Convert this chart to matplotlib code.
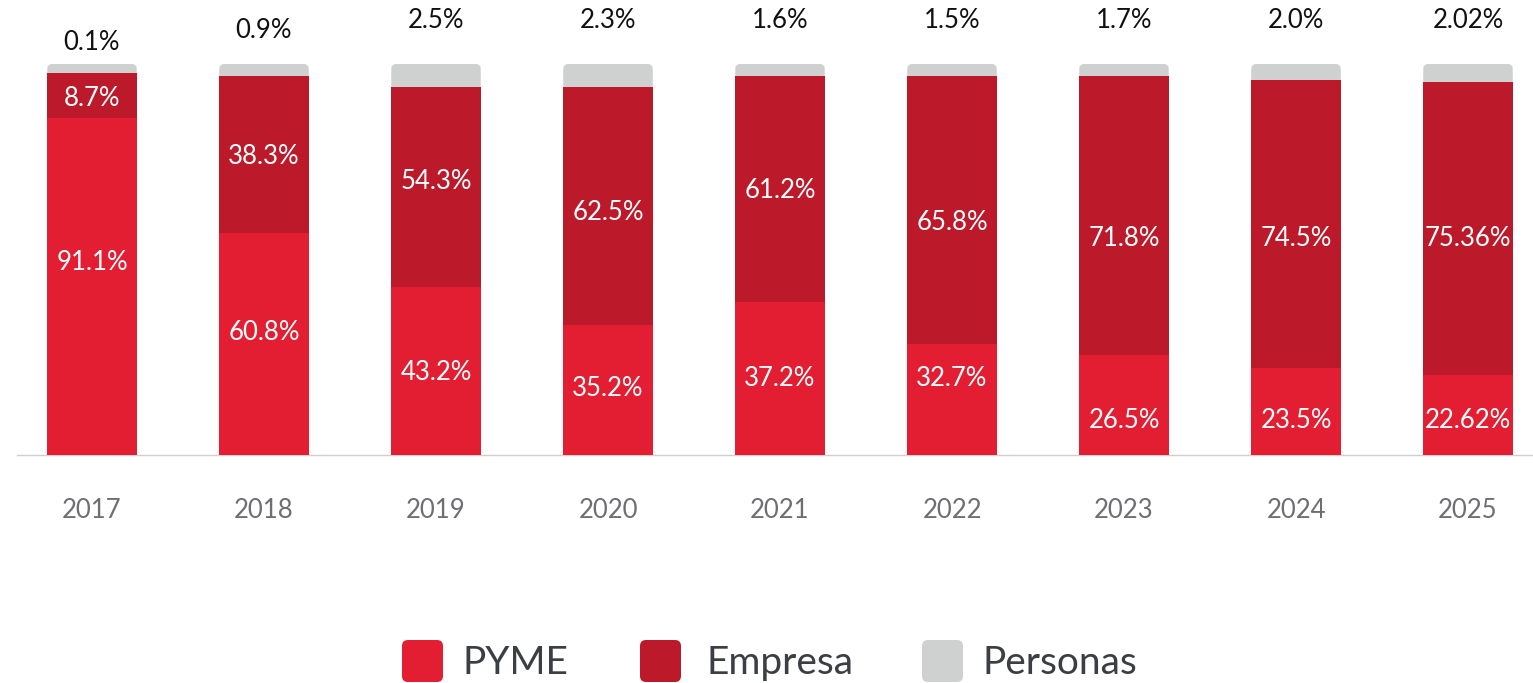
import matplotlib
matplotlib.use("Agg")
import matplotlib.pyplot as plt
from matplotlib.patches import FancyBboxPatch
import numpy as np

plt.rcParams['font.family'] = ['Lato', 'DejaVu Sans']

# ---- data ----
years = ["2017", "2018", "2019", "2020", "2021", "2022", "2023", "2024", "2025"]
# segment heights as drawn in the picture (% of full bar)
pyme_h = [86.3, 56.9, 43.0, 33.2, 39.1, 28.4, 25.6, 22.3, 20.5]
empresa_h = [11.5, 40.1, 51.1, 60.9, 57.8, 68.5, 71.4, 73.7, 74.9]
personas_h = [2.2, 3.0, 5.9, 5.9, 3.1, 3.1, 3.0, 4.0, 4.6]
# labels printed on the chart
pyme_lbl = ["91.1%", "60.8%", "43.2%", "35.2%", "37.2%", "32.7%", "26.5%", "23.5%", "22.62%"]
empresa_lbl = ["8.7%", "38.3%", "54.3%", "62.5%", "61.2%", "65.8%", "71.8%", "74.5%", "75.36%"]
personas_lbl = ["0.1%", "0.9%", "2.5%", "2.3%", "1.6%", "1.5%", "1.7%", "2.0%", "2.02%"]
series_names = ["PYME", "Empresa", "Personas"]

# ---- style ----
C_PYME = "#E31E33"
C_EMP = "#BC1A2A"
C_PER = "#CFD1D1"
W, H = 1533, 683
DPI = 100
BASE_PX = 455          # baseline pixel row
PX_PER_PCT = 3.91      # vertical pixels per percentage point
SPACING_PX = 172
FIRST_CX = 92
LEFT_PX = 17

# label vertical positions (pixel rows in the picture)
top_lbl_px = [42, 31, 21, 21, 21, 21, 21, 21, 21]
emp_lbl_px = [98, 157, 182, 213, 191, 223, 238, 238, 238]
pyme_lbl_px = [262, 332, 372, 389, 378, 378, 421, 421, 421]

fig = plt.figure(figsize=(W / DPI, H / DPI), dpi=DPI)
ax = fig.add_axes([LEFT_PX / W, (H - BASE_PX) / H, (W - LEFT_PX) / W, BASE_PX / H])

x = np.arange(len(years))
ax.set_xlim((LEFT_PX - FIRST_CX) / SPACING_PX, (W - FIRST_CX) / SPACING_PX)
ymax = BASE_PX / PX_PER_PCT
ax.set_ylim(0, ymax)

bw = 89.5 / SPACING_PX
pyme = np.array(pyme_h)
emp = np.array(empresa_h)
per = np.array(personas_h)
total = pyme + emp + per

# Personas: full-height bar behind, replaced by rounded-top patch
bg = ax.bar(x, total, width=bw, color=C_PER, zorder=1)
aspect = (1 / PX_PER_PCT) / (1 / SPACING_PX)
r = 5 / SPACING_PX
for p in bg:
    bx, by = p.get_x(), p.get_y()
    bwid, bh = p.get_width(), p.get_height()
    p.set_visible(False)
    fp = FancyBboxPatch((bx, by), bwid, bh,
                        boxstyle=f"round,pad=0,rounding_size={r}",
                        mutation_aspect=aspect, facecolor=C_PER,
                        edgecolor="none", zorder=1)
    ax.add_patch(fp)

ax.bar(x, pyme, width=bw, color=C_PYME, zorder=2)
ax.bar(x, emp, width=bw, bottom=pyme, color=C_EMP, zorder=2)

def px2y(py):
    return (BASE_PX - py) / PX_PER_PCT

fs = 18.5
for i in range(len(years)):
    ax.text(x[i], px2y(top_lbl_px[i]), personas_lbl[i], ha="center", va="center",
            fontsize=fs, color="#111111", clip_on=False)
    ax.text(x[i], px2y(emp_lbl_px[i]), empresa_lbl[i], ha="center", va="center",
            fontsize=fs, color="white", zorder=3)
    ax.text(x[i], px2y(pyme_lbl_px[i]), pyme_lbl[i], ha="center", va="center",
            fontsize=fs, color="white", zorder=3)

# axis styling
for s in ["top", "right", "left"]:
    ax.spines[s].set_visible(False)
ax.spines["bottom"].set_color("#cfcfcf")
ax.spines["bottom"].set_linewidth(1.0)
ax.spines["bottom"].set_zorder(0.5)
ax.set_yticks([])
ax.set_xticks(x)
ax.set_xticklabels(years, fontsize=fs, color="#6d6f73")
ax.tick_params(axis="x", length=0, pad=31)
ax.patch.set_visible(False)

# legend (manual, rounded squares)
leg_sq_x = [402, 640, 922]
leg_txt_x = [463, 707, 983]
leg_cy = 661
leg_colors = [C_PYME, C_EMP, C_PER]
for i, name in enumerate(series_names):
    sq = FancyBboxPatch((leg_sq_x[i] / W, (H - leg_cy - 21) / H), 41 / W, 42 / H,
                        boxstyle=f"round,pad=0,rounding_size={6 / W}",
                        mutation_aspect=W / H, transform=fig.transFigure,
                        facecolor=leg_colors[i], edgecolor="none")
    fig.add_artist(sq)
    fig.text(leg_txt_x[i] / W, (H - leg_cy - 2) / H, name, ha="left", va="center",
             fontsize=28, color="#3b3e43")

fig.savefig("out.png", dpi=DPI)
